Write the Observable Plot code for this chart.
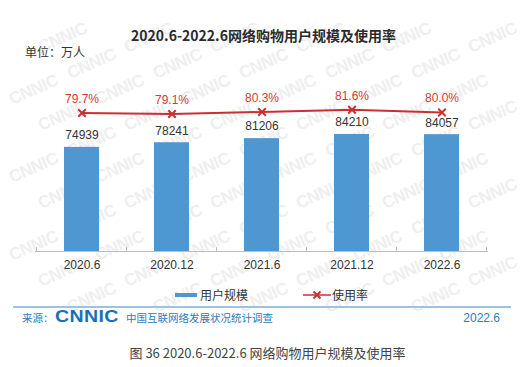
<!DOCTYPE html>
<html>
<head>
<meta charset="utf-8">
<script src="https://cdn.jsdelivr.net/npm/d3@7"></script>
<script src="https://cdn.jsdelivr.net/npm/@observablehq/plot@0.6"></script>
<style>
  html, body { margin: 0; padding: 0; background: #ffffff; }
  #wrap { position: relative; width: 531px; height: 367px; overflow: hidden;
    font-family: "Liberation Sans", Arial, "Noto Sans CJK SC", sans-serif; color: #333; }
  #wm { position: absolute; left: 0; top: 0; width: 531px; height: 335px; }
  .wm { position: absolute; font-family: "Liberation Sans", Arial, sans-serif; font-weight: bold; font-size: 17px;
    line-height: 20px; color: #efefef; transform: rotate(-24deg); transform-origin: center; letter-spacing: -0.5px; white-space: nowrap; }
  .abs { position: absolute; white-space: nowrap; }
  #title { left: 0; width: 527px; top: 25px; line-height: 20px; text-align: center;
    font-family: "Noto Sans CJK SC", sans-serif; font-weight: bold; font-size: 14px; color: #2b2b2b; }
  #unit { left: 25px; top: 44px; line-height: 16px; font-size: 12px; font-family: "Noto Sans CJK SC", sans-serif; color: #333; }
  #chart { position: absolute; left: 0; top: 60px; }
  .leg { font-family: "Noto Sans CJK SC", sans-serif; font-size: 12px; line-height: 16px; color: #333; }
  #rule { left: 13px; top: 306px; width: 498px; height: 1.5px; background: #9cc3e6; }
  .foot { color: #2a7bbf; font-family: "Noto Sans CJK SC", sans-serif; }
  #logo { left: 55px; top: 308px; font-family: "Liberation Sans", Arial, sans-serif; font-weight: 900;
    font-size: 16px; line-height: 18px; color: #1c6fb6; letter-spacing: 0.3px; transform-origin: left center; transform: scaleX(1.22); }
  #caption { left: 0; width: 535px; top: 344px; line-height: 18px; text-align: center; font-size: 13px;
    font-family: "Noto Sans CJK SC", sans-serif; color: #444; }
</style>
</head>
<body>
<div id="wrap">
  <div id="wm"></div>
  <div id="title" class="abs">2020.6-2022.6网络购物用户规模及使用率</div>
  <div id="unit" class="abs">单位：万人</div>
  <div id="chart"></div>
  <div class="abs" style="left:175px;top:293px;width:22px;height:4px;background:#4f97d1;"></div>
  <div class="abs leg" style="left:200px;top:287px;">用户规模</div>
  <svg class="abs" style="left:303px;top:290px;" width="28" height="10">
    <line x1="0" y1="5" x2="28" y2="5" stroke="#cc2f33" stroke-width="1.5"/>
    <path d="M10.5,1.5L17.5,8.5M17.5,1.5L10.5,8.5" stroke="#cc2f33" stroke-width="2"/>
  </svg>
  <div class="abs leg" style="left:332px;top:287px;">使用率</div>
  <div id="rule" class="abs"></div>
  <div class="abs foot" style="left:22px;top:310px;font-size:10.5px;line-height:16px;">来源：</div>
  <div id="logo" class="abs">CNNIC</div>
  <div class="abs foot" style="left:126px;top:310px;font-size:10.5px;line-height:16px;">中国互联网络发展状况统计调查</div>
  <div class="abs foot" style="right:31px;top:309px;font-size:12px;line-height:18px;font-family:'Liberation Sans',Arial,sans-serif;">2022.6</div>
  <div id="caption" class="abs">图 36 2020.6-2022.6 网络购物用户规模及使用率</div>
</div>
<script>
const periods = ["2020.6", "2020.12", "2021.6", "2021.12", "2022.6"];
const users = [74939, 78241, 81206, 84210, 84057];
const rates = [79.7, 79.1, 80.3, 81.6, 80.0];

const rateAxisMax = 80; // right-axis top (%) aligned with left-axis top
const userAxisMax = 100000;

const table = periods.map((p, i) => ({
  period: p,
  users: users[i],
  rate: rates[i],
  rateY: rates[i] / rateAxisMax * userAxisMax
}));

const red = "#cc2f33";
const blue = "#4f97d1";

// faint background watermark (kept fully inside the page)
const wm = document.getElementById("wm");
for (let r = 0; r < 14; r++) {
  for (let c = -1; c < 7; c++) {
    const left = c * 86 + (r % 3) * 29 + 8;
    const top = r * 26 + 2;
    if (left < 2 || left + 62 > 529 || top < 4 || top + 30 > 330) continue;
    const el = document.createElement("div");
    el.className = "wm";
    el.textContent = "CNNIC";
    el.style.left = left + "px";
    el.style.top = top + "px";
    wm.appendChild(el);
  }
}

const plot = Plot.plot({
  width: 531,
  height: 220,
  marginTop: 52,
  marginBottom: 29,
  marginLeft: 35,
  marginRight: 43,
  x: { domain: periods, paddingInner: 0.61, paddingOuter: 0.305, label: null },
  y: { domain: [0, userAxisMax], axis: null },
  style: { fontFamily: "'Liberation Sans', Arial, 'Noto Sans CJK SC', sans-serif", fontSize: "12px", background: "transparent", overflow: "visible", color: "#333" },
  marks: [
    Plot.barY(table, { x: "period", y: "users", fill: blue }),
    Plot.ruleY([0], { stroke: "#bdbdbd", strokeWidth: 1 }),
    Plot.axisX({ tickSize: 0, tickPadding: 9, fontSize: 12, fill: "#333" }),
    Plot.text(table, { x: "period", y: "users", text: d => String(d.users), dy: -12, fill: "#333", fontSize: 12 }),
    Plot.line(table, { x: "period", y: "rateY", stroke: red, strokeWidth: 2 }),
    Plot.dot(table, { x: "period", y: "rateY", symbol: "times", r: 3.5, stroke: red, strokeWidth: 2 }),
    Plot.text(table, { x: "period", y: "rateY", text: d => d.rate.toFixed(1) + "%", dy: -14, fill: "#d23a3a", fontSize: 12 })
  ]
});

document.getElementById("chart").appendChild(plot);

// category boundary ticks on the baseline, placed via the plot's own scales
const xs = plot.scale("x");
const ys = plot.scale("y");
const step = xs.apply(periods[1]) - xs.apply(periods[0]);
const bw = xs.bandwidth != null ? xs.bandwidth : step * (1 - 0.61);
const gap = (step - bw) / 2;
const bounds = periods.map(p => xs.apply(p) - gap).concat([xs.apply(periods[periods.length - 1]) + bw + gap]);
const y0 = ys.apply(0);
d3.select(plot).append("g")
  .attr("stroke", "#bdbdbd")
  .selectAll("line")
  .data(bounds)
  .join("line")
  .attr("x1", d => d).attr("x2", d => d)
  .attr("y1", y0 - 4).attr("y2", y0);
</script>
</body>
</html>
